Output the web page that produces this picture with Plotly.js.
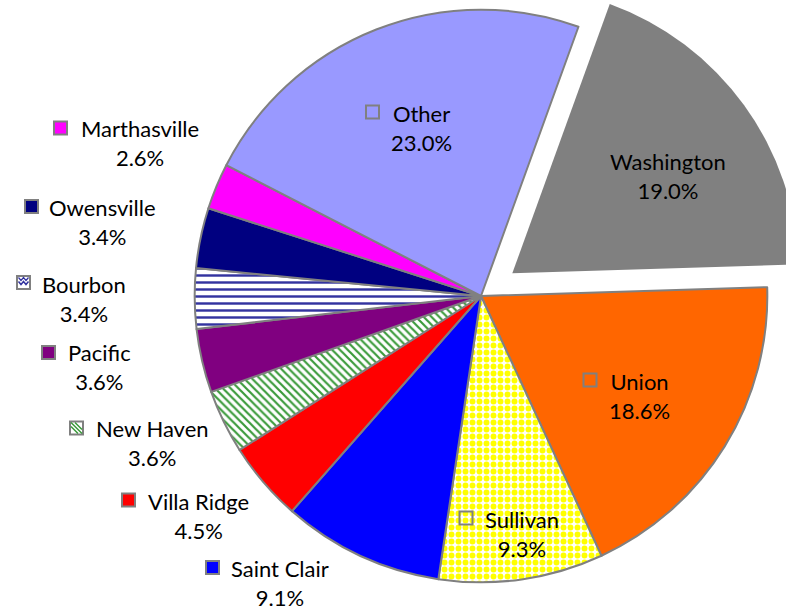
<!DOCTYPE html>
<html><head><meta charset="utf-8">
<script src="https://cdn.plot.ly/plotly-3.0.1.min.js"></script>
<style>
html,body{margin:0;padding:0;overflow:hidden;background:#fff;width:786px;height:611px;position:relative}
#chart{position:absolute;left:0;top:-29px;width:806px;height:650px}
</style>
</head><body><div id="chart"></div>
<script>
// ---- data ----
const categories = ['Washington','Union','Sullivan','Saint Clair','Villa Ridge','New Haven','Pacific','Bourbon','Owensville','Marthasville','Other'];
const shares = [19.0, 18.6, 9.3, 9.1, 4.5, 3.6, 3.6, 3.4, 3.4, 2.6, 23.0];
const pulledCategory = 'Washington';

// ---- styles ----
const sliceColors = ['#808080','#FF6600','#FFFF00','#0000FF','#FF0000','#FFFFFF','#800080','#FFFFFF','#000080','#FF00FF','#9999FF'];
const patShape    = ['','','.','','','\\','','-','','',''];
const patFg       = ['#808080','#FF6600','#FFFF00','#0000FF','#FF0000','#3A9A3A','#800080','#33339F','#000080','#FF00FF','#9999FF'];
const patBg       = ['#808080','#FF6600','#FFFFFF','#0000FF','#FF0000','#FFFFFF','#800080','#FFFFFF','#000080','#FF00FF','#9999FF'];
const patSize     = [8,8,7,8,8,5.5,8,7,8,8,8];
const patSolid    = [0.3,0.3,0.55,0.3,0.3,0.4,0.3,0.35,0.3,0.3,0.3];
const lineWidths  = categories.map(c => c === pulledCategory ? 0 : 2);

// label layout (page pixels): text centre, key centre, key style
const labelPos = {
  'Washington':  {tx:668, ty:176, key:null},
  'Union':       {tx:639, ty:396, key:[590,380], style:'hollow'},
  'Sullivan':    {tx:522, ty:534, key:[466,518], style:'hollow'},
  'Saint Clair': {tx:280, ty:583, key:[212.5,567.5], style:'solid'},
  'Villa Ridge': {tx:198, ty:515.5, key:[128.5,500], style:'solid'},
  'New Haven':   {tx:152, ty:443, key:[76.5,428], style:'diag'},
  'Pacific':     {tx:99,  ty:367, key:[48.5,352.5], style:'solid'},
  'Bourbon':     {tx:84,  ty:299, key:[23.5,282.5], style:'wave'},
  'Owensville':  {tx:102, ty:221.5, key:[31.5,206.5], style:'solid'},
  'Marthasville':{tx:140, ty:143, key:[60.5,128], style:'solid'},
  'Other':       {tx:421, ty:128, key:[372.5,112], style:'hollow'}
};

const W = 806, H = 650, TOP = 29;
const px = x => x / W;
const py = y => 1 - (y + TOP) / H;

const annotations = [];
const shapes = [];
categories.forEach((c, i) => {
  const p = labelPos[c];
  annotations.push({
    xref:'paper', yref:'paper', x:px(p.tx), y:py(p.ty),
    xanchor:'center', yanchor:'middle', align:'center', showarrow:false,
    text: c + '<br>' + shares[i].toFixed(1) + '%',
    font:{family:"Lato, 'Liberation Sans', sans-serif", size:22, color:'#000'}
  });
  if (!p.key) return;
  const base = {xref:'paper', yref:'paper', xsizemode:'pixel', ysizemode:'pixel',
                xanchor:px(p.key[0]), yanchor:py(p.key[1])};
  let fill = sliceColors[i];
  if (p.style === 'hollow') fill = 'rgba(0,0,0,0)';
  if (p.style === 'wave' || p.style === 'diag') fill = '#FFFFFF';
  shapes.push(Object.assign({type:'rect', x0:-6.5, x1:6.5, y0:-6.5, y1:6.5,
    fillcolor:fill, line:{color:'#808080', width:2}}, base));
  if (p.style === 'wave') {
    shapes.push(Object.assign({type:'path', path:'M-5,1 L-2.5,-2 L0,1 L2.5,-2 L5,1',
      line:{color:'#33339F', width:1.5}}, base));
    shapes.push(Object.assign({type:'path', path:'M-5,5 L-2.5,2 L0,5 L2.5,2 L5,5',
      line:{color:'#33339F', width:1.2}}, base));
  }
  if (p.style === 'diag') {
    shapes.push(Object.assign({type:'path',
      path:'M-5.5,5.5 L5.5,-5.5 M-1.5,5.5 L5.5,-1.5 M-5.5,1.5 L1.5,-5.5',
      line:{color:'#3A9A3A', width:1.5}}, base));
  }
});

const trace = {
  type:'pie',
  labels: categories,
  values: shares,
  sort:false,
  direction:'clockwise',
  rotation:19.9,
  pull: categories.map(c => c === pulledCategory ? 0.135 : 0),
  textinfo:'none',
  hoverinfo:'skip',
  domain:{x:[156/W, 1], y:[0, 1]},
  marker:{
    colors: sliceColors,
    line:{color:'#808080', width: lineWidths},
    pattern:{shape:patShape, fgcolor:patFg, bgcolor:patBg, size:patSize, solidity:patSolid, fillmode:'replace'}
  }
};

Plotly.newPlot('chart', [trace], {
  width:W, height:H,
  margin:{l:0, r:0, t:0, b:0},
  paper_bgcolor:'#FFFFFF',
  showlegend:false,
  annotations: annotations,
  shapes: shapes
}, {staticPlot:true});
</script>
</body></html>
